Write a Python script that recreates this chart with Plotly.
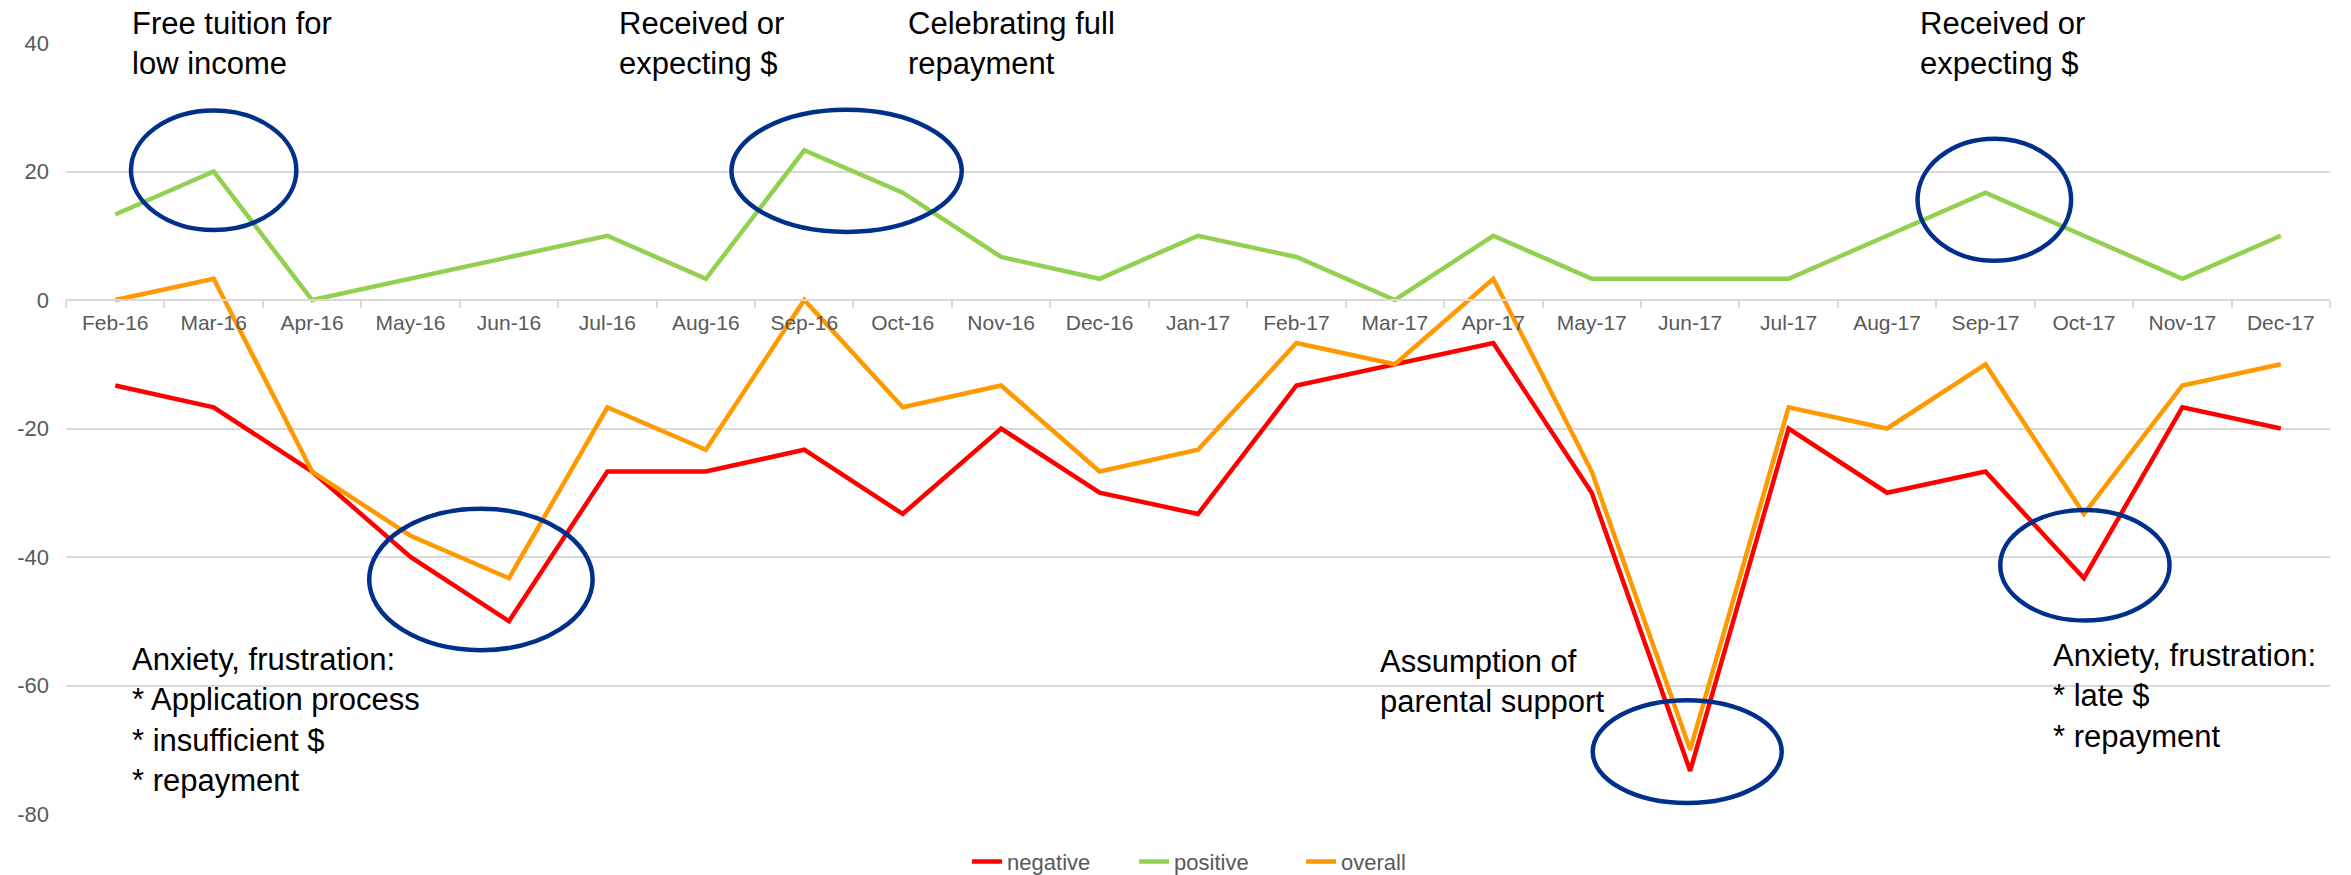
import plotly.graph_objects as go

months = ["Feb-16", "Mar-16", "Apr-16", "May-16", "Jun-16", "Jul-16", "Aug-16",
          "Sep-16", "Oct-16", "Nov-16", "Dec-16", "Jan-17", "Feb-17", "Mar-17",
          "Apr-17", "May-17", "Jun-17", "Jul-17", "Aug-17", "Sep-17", "Oct-17",
          "Nov-17", "Dec-17"]

negative = [-13.3, -16.7, -26.7, -40.0, -50.0, -26.7, -26.7, -23.3, -33.3, -20.0,
            -30.0, -33.3, -13.3, -10.0, -6.7, -30.0, -73.3, -20.0, -30.0, -26.7,
            -43.3, -16.7, -20.0]
positive = [13.3, 20.0, 0.0, 3.3, 6.7, 10.0, 3.3, 23.3, 16.7, 6.7,
            3.3, 10.0, 6.7, 0.0, 10.0, 3.3, 3.3, 3.3, 10.0, 16.7,
            10.0, 3.3, 10.0]
overall = [0.0, 3.3, -26.7, -36.7, -43.3, -16.7, -23.3, 0.0, -16.7, -13.3,
           -26.7, -23.3, -6.7, -10.0, 3.3, -26.7, -70.0, -16.7, -20.0, -10.0,
           -33.3, -13.3, -10.0]

y_tick_vals = [40, 20, 0, -20, -40, -60, -80]
y_tick_text = ["40", "20", "0", "-20", "-40", "-60", "-80"]
y_min, y_max = -80, 40

notes = [
    ("Free tuition for<br>low income", 0.15, 40.0),
    ("Received or<br>expecting $", 5.10, 40.0),
    ("Celebrating full<br>repayment", 8.03, 40.0),
    ("Received or<br>expecting $", 18.31, 40.0),
    ("Anxiety, frustration:<br>* Application process<br>* insufficient $<br>* repayment", 0.15, -65.3),
    ("Assumption of<br>parental support", 12.83, -59.3),
    ("Anxiety, frustration:<br>* late $<br>* repayment", 19.67, -61.6),
]

# ellipses: (center index, center value, x radius, y radius)
circles = [
    (1.0, 20.2, 0.84, 9.3),
    (3.715, -43.5, 1.135, 11.0),
    (7.43, 20.1, 1.17, 9.5),
    (19.09, 15.6, 0.78, 9.5),
    (15.97, -70.3, 0.96, 8.0),
    (20.01, -41.3, 0.86, 8.6),
]

FONT = "Arial, 'Liberation Sans', sans-serif"

fig = go.Figure()
for name, vals, color in [("negative", negative, "#FF0000"),
                          ("positive", positive, "#92D050"),
                          ("overall", overall, "#FF9900")]:
    fig.add_trace(go.Scatter(x=months, y=vals, name=name, mode="lines",
                             line=dict(color=color, width=4.5)))

for cx, cy, rx, ry in circles:
    fig.add_shape(type="circle", xref="x", yref="y",
                  x0=cx - rx, x1=cx + rx, y0=cy - ry, y1=cy + ry,
                  line=dict(color="#00308A", width=4.5), layer="above")

for text, x, y in notes:
    fig.add_annotation(text=text, x=x, y=y, xref="x", yref="y",
                       xanchor="left", yanchor="middle", align="left",
                       showarrow=False,
                       font=dict(family=FONT, size=31, color="#000000"))

fig.update_layout(
    width=2351, height=875,
    margin=dict(l=66, r=21, t=43, b=61, autoexpand=False),
    paper_bgcolor="white", plot_bgcolor="white",
    font=dict(family=FONT, color="#595959"),
    showlegend=True,
    legend=dict(orientation="h", x=0.398, xanchor="left", y=-0.062,
                yanchor="middle", font=dict(size=22, color="#595959"),
                traceorder="normal", entrywidth=122, entrywidthmode="pixels",
                bgcolor="rgba(0,0,0,0)"),
    xaxis=dict(type="category", anchor="free",
               range=[-0.5, len(months) - 0.5],
               position=(0 - y_min) / (y_max - y_min),
               showline=True, linecolor="#D9D9D9", linewidth=1.5,
               ticks="outside", tickson="boundaries", ticklen=7,
               tickcolor="#D9D9D9", tickwidth=1.5, showgrid=False,
               tickfont=dict(size=21, color="#595959"),
               ticklabelstandoff=4),
    yaxis=dict(range=[y_min, y_max], tickvals=y_tick_vals, ticktext=y_tick_text,
               showgrid=True, gridcolor="#D9D9D9", gridwidth=1.5,
               zeroline=False, showline=False, ticks="",
               tickfont=dict(size=22, color="#595959"),
               ticklabelstandoff=16),
)

fig.write_html("out.html", config={"displayModeBar": False},
               post_script="document.body.style.margin='0';")
